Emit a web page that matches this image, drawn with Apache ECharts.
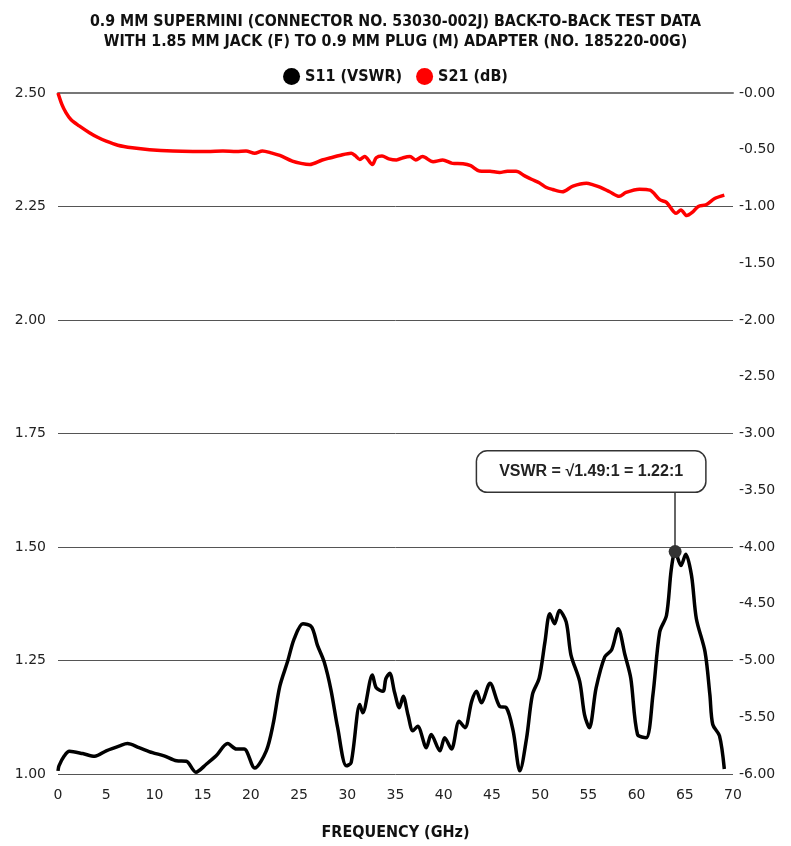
<!DOCTYPE html>
<html><head><meta charset="utf-8">
<script src="https://cdn.jsdelivr.net/npm/echarts@6/dist/echarts.min.js"></script>
<style>html,body{margin:0;padding:0;background:#fff}#c{width:791px;height:846px}</style>
</head><body><div id="c"></div>
<script>
var titleText = '0.9 MM SUPERMINI (CONNECTOR NO. 53030-002J) BACK-TO-BACK TEST DATA\nWITH 1.85 MM JACK (F) TO 0.9 MM PLUG (M) ADAPTER (NO. 185220-00G)';
var xAxisName = 'FREQUENCY (GHz)';
var annotationText = 'VSWR = \u221A1.49:1 = 1.22:1';
var peakFreq = 64.0, peakVSWR = 1.49;

var s11Freq = [0,0.1,0.66,1.18,2.56,3.8,5.0,6.4,7.2,8.4,
 9.8,11.0,12.3,13.3,14.3,15.4,16.4,17.6,18.5,19.3,
 20.4,21.6,22.3,23.0,23.8,24.5,25.4,26.3,26.9,27.6,
 28.3,29.0,29.9,30.4,31.3,31.6,32.6,33.0,33.7,34.0,
 34.4,34.9,35.4,35.8,36.3,36.8,37.3,38.2,38.7,39.6,
 40.1,40.8,41.6,42.2,42.9,43.4,43.9,44.8,45.8,46.5,
 47.2,47.9,48.6,49.2,49.9,50.5,51.0,51.5,52.0,52.7,
 53.2,54.1,54.6,55.1,55.8,56.7,57.4,58.1,58.8,59.4,
 60.1,61.0,61.7,62.4,63.1,63.6,64.0,64.6,65.1,65.7,
 66.2,67.1,67.6,67.9,68.6,69.1];
var s11VSWR = [1.007,1.018,1.04,1.05,1.045,1.039,1.051,1.062,1.067,1.058,
 1.047,1.04,1.029,1.028,1.004,1.022,1.04,1.067,1.055,1.055,
 1.013,1.051,1.109,1.193,1.247,1.298,1.331,1.324,1.284,1.247,
 1.186,1.102,1.018,1.025,1.153,1.135,1.218,1.19,1.182,1.21,
 1.222,1.18,1.146,1.171,1.13,1.095,1.105,1.058,1.087,1.051,
 1.08,1.055,1.116,1.102,1.16,1.182,1.157,1.2,1.149,1.146,
 1.095,1.007,1.08,1.175,1.211,1.291,1.353,1.331,1.36,1.335,
 1.262,1.204,1.131,1.102,1.189,1.258,1.273,1.32,1.262,1.211,
 1.087,1.08,1.175,1.313,1.349,1.451,1.49,1.459,1.484,1.437,
 1.342,1.269,1.175,1.109,1.084,1.011];

var s21Freq = [0,0.4,0.84,1.36,2.2,3.26,4.1,5.0,6.2,7.7,
 9.5,11.9,14,15.5,17.1,18.5,19.5,20.4,21.2,22.2,
 23.0,24.3,25.2,26.1,27.4,28.3,29.2,30.4,30.8,31.3,
 31.8,32.6,33.0,33.6,34.3,35.1,35.8,36.5,37.1,37.8,
 38.9,39.9,40.9,42.0,42.8,43.7,44.8,45.8,46.6,47.5,
 48.4,49.1,49.9,50.6,51.3,52.3,53.4,54.8,55.5,56.2,
 57.2,58.2,58.9,60.3,61.4,62.4,63.1,64.1,64.6,65.2,
 65.8,66.4,67.2,68.1,69.1];
var s21dB = [0,-0.1,-0.175,-0.236,-0.29,-0.35,-0.39,-0.425,-0.46,-0.483,
 -0.5,-0.512,-0.515,-0.515,-0.512,-0.515,-0.51,-0.53,-0.51,-0.53,
 -0.55,-0.6,-0.62,-0.63,-0.59,-0.57,-0.55,-0.53,-0.55,-0.585,
 -0.56,-0.63,-0.57,-0.555,-0.58,-0.59,-0.57,-0.56,-0.59,-0.56,
 -0.605,-0.59,-0.62,-0.623,-0.64,-0.687,-0.69,-0.70,-0.69,-0.69,
 -0.73,-0.76,-0.79,-0.83,-0.85,-0.87,-0.82,-0.795,-0.81,-0.83,
 -0.87,-0.91,-0.876,-0.847,-0.856,-0.94,-0.963,-1.06,-1.03,-1.08,
 -1.05,-1.0,-0.985,-0.93,-0.90];

function pairs(xs, ys){ var o=[]; for(var i=0;i<Math.min(xs.length,ys.length);i++) o.push([xs[i],ys[i]]); return o; }

var condFont = "'Liberation Sans Narrow','DejaVu Sans Condensed','Roboto Condensed',sans-serif";
var tickFont = "'DejaVu Sans',sans-serif";

var chart = echarts.init(document.getElementById('c'), null, {renderer:'canvas'});
chart.setOption({
  animation:false,
  backgroundColor:'#fff',
  title:{text:titleText,left:'center',top:7,textStyle:{fontFamily:condFont,fontWeight:'bold',fontSize:15.8,lineHeight:20,color:'#111'}},
  legend:{top:63,left:'center',icon:'circle',itemWidth:17,itemHeight:17,itemGap:14,
    textStyle:{fontFamily:condFont,fontWeight:'bold',fontSize:16,color:'#111'},
    data:['S11 (VSWR)','S21 (dB)']},
  grid:{left:58,right:58,top:93,bottom:66,containLabel:false},
  xAxis:{type:'value',min:0,max:70,interval:5,
    name:xAxisName,nameLocation:'middle',nameGap:51,
    nameTextStyle:{fontFamily:condFont,fontWeight:'bold',fontSize:16,color:'#111'},
    axisLine:{lineStyle:{color:'#777',width:2}},axisTick:{show:false},splitLine:{show:false},
    axisLabel:{fontFamily:tickFont,fontSize:14,color:'#222',margin:14}},
  yAxis:[
    {type:'value',min:1.0,max:2.5,interval:0.25,
     axisLine:{show:false},axisTick:{show:false},
     splitLine:{show:true,lineStyle:{color:'#555',width:1}},
     axisLabel:{fontFamily:tickFont,fontSize:14,color:'#222',margin:12,formatter:function(v){return v.toFixed(2);}}},
    {type:'value',min:-6,max:0,interval:0.5,position:'right',
     axisLine:{show:false},axisTick:{show:false},splitLine:{show:false},
     axisLabel:{fontFamily:tickFont,fontSize:14,color:'#222',margin:6,formatter:function(v){return v===0?'-0.00':v.toFixed(2);}}}
  ],
  series:[
    {name:'S11 (VSWR)',type:'line',yAxisIndex:0,data:pairs(s11Freq,s11VSWR),
     showSymbol:false,smooth:0.3,color:'#000',lineStyle:{color:'#000',width:3.5},z:3,
     markLine:{silent:true,symbol:'none',label:{show:false},lineStyle:{color:'#333',width:1.5,type:'solid'},
       data:[[{coord:[peakFreq,peakVSWR]},{coord:[peakFreq,1.627]}]]},
     markPoint:{silent:true,symbol:'circle',symbolSize:13,itemStyle:{color:'#333'},
       label:{show:true,position:'inside',offset:[-84,-80],formatter:annotationText,
         fontFamily:"'Liberation Sans','Arial',sans-serif",fontWeight:'bold',fontSize:16,color:'#222',
         backgroundColor:'#fff',borderColor:'#333',borderWidth:1.5,borderRadius:10,padding:[12,22]},
       data:[{coord:[peakFreq,peakVSWR]}]}},
    {name:'S21 (dB)',type:'line',yAxisIndex:1,data:pairs(s21Freq,s21dB),
     showSymbol:false,smooth:0.3,color:'#ff0000',lineStyle:{color:'#ff0000',width:3.5},z:3}
  ]
});
</script></body></html>
